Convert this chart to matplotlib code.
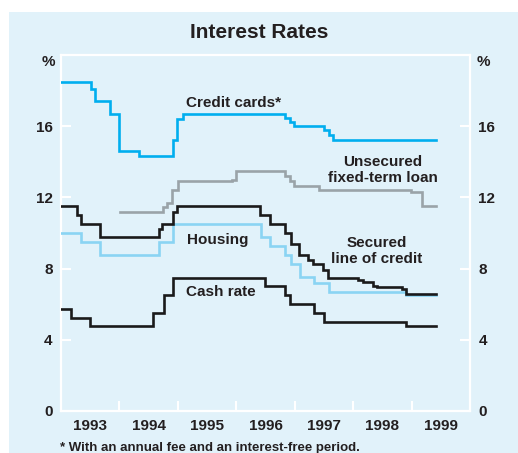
import matplotlib
matplotlib.use("Agg")
import matplotlib.pyplot as plt
from matplotlib.patches import Rectangle

# ---------------------------------------------------------------------------
# Data (step series: date of change, new rate); END closes every series
# ---------------------------------------------------------------------------
END = 1999.42

CARD_DATES = [1993.0, 1993.51, 1993.58, 1993.84, 1993.99, 1994.34, 1994.92,
              1994.99, 1995.09, 1996.84, 1996.92, 1996.99, 1997.50, 1997.58,
              1997.66]
CARD_RATES = [18.5, 18.1, 17.4, 16.7, 14.6, 14.3, 15.2,
              16.4, 16.7, 16.45, 16.25, 16.0, 15.8, 15.5,
              15.25]

LOAN_DATES = [1994.01, 1994.74, 1994.81, 1994.90, 1995.0, 1995.92, 1996.0,
              1996.84, 1996.92, 1996.99, 1997.42, 1998.99, 1999.17]
LOAN_RATES = [11.2, 11.45, 11.7, 12.4, 12.9, 13.0, 13.5,
              13.2, 12.9, 12.65, 12.4, 12.3, 11.5]

LOC_DATES = [1993.0, 1993.27, 1993.34, 1993.67, 1994.67, 1994.73, 1994.91,
             1994.98, 1996.41, 1996.58, 1996.84, 1996.93, 1997.08, 1997.22,
             1997.32, 1997.48, 1997.57, 1998.09, 1998.17, 1998.34, 1998.41,
             1998.84, 1998.91]
LOC_RATES = [11.5, 11.0, 10.5, 9.75, 10.25, 10.5, 11.2,
             11.5, 11.0, 10.5, 10.0, 9.4, 8.75, 8.5,
             8.25, 7.9, 7.45, 7.35, 7.25, 7.05, 6.95,
             6.85, 6.6]

HOUSING_DATES = [1993.0, 1993.34, 1993.67, 1994.67, 1994.91, 1996.43, 1996.58,
                 1996.83, 1996.93, 1997.09, 1997.33, 1997.58, 1998.91]
HOUSING_RATES = [10.0, 9.5, 8.75, 9.5, 10.5, 9.75, 9.25,
                 8.75, 8.25, 7.55, 7.2, 6.7, 6.5]

CASH_DATES = [1993.0, 1993.17, 1993.5, 1994.58, 1994.77, 1994.92, 1996.5,
              1996.84, 1996.92, 1997.33, 1997.5, 1998.91]
CASH_RATES = [5.75, 5.25, 4.75, 5.5, 6.5, 7.5, 7.0,
              6.5, 6.0, 5.5, 5.0, 4.75]

YEARS = [1993, 1994, 1995, 1996, 1997, 1998, 1999]
Y_TICKS = [0, 4, 8, 12, 16]

# ---------------------------------------------------------------------------
# Style
# ---------------------------------------------------------------------------
plt.rcParams["font.family"] = ["Liberation Sans", "DejaVu Sans"]
plt.rcParams["font.weight"] = "bold"

PANEL = "#e1f2fa"
TXT = "#231f20"
W, H = 518, 453

fig = plt.figure(figsize=(W / 100, H / 100), dpi=100)
fig.patch.set_facecolor("white")
fig.patches.append(Rectangle((9 / W, 0), 1 - 9 / W, 1 - 12 / H,
                             transform=fig.transFigure, facecolor=PANEL,
                             edgecolor="none", zorder=-10))

ax = fig.add_axes([61 / W, (H - 411) / H, (470 - 61) / W, (411 - 55) / H])
ax.set_facecolor(PANEL)
ax.set_zorder(1)


def step(dates, rates, color):
    ax.step(dates + [END], rates + [rates[-1]], where="post",
            color=color, lw=1.9, solid_joinstyle="miter", zorder=3)


step(CARD_DATES, CARD_RATES, "#00aeef")
step(LOAN_DATES, LOAN_RATES, "#9aa3a8")
step(HOUSING_DATES, HOUSING_RATES, "#8ad4f3")
step(LOC_DATES, LOC_RATES, "#1a1a1a")
step(CASH_DATES, CASH_RATES, "#1a1a1a")

ax.set_xlim(1993, 2000)
ax.set_ylim(0, 20)

for s in ax.spines.values():
    s.set_color("white")
    s.set_linewidth(1.6)

# year boundaries as ticks, labels centred in each year
ax.set_xticks(YEARS[1:])
ax.set_xticklabels([])
ax.set_xticks([y + 0.5 for y in YEARS], minor=True)
ax.set_xticklabels([str(y) for y in YEARS], minor=True)
ax.tick_params(axis="x", which="major", direction="in", length=7,
               width=1.5, color="white")
ax.tick_params(axis="x", which="minor", length=0, pad=6, labelsize=11,
               labelcolor=TXT)

ax.set_yticks(Y_TICKS)
ax.tick_params(axis="y", which="both", direction="in", length=7, width=1.5,
               color="white", left=True, right=True, labelleft=True,
               labelright=True, labelsize=11, labelcolor=TXT, pad=6)
for lbl in ax.get_xticklabels(minor=True) + ax.get_yticklabels():
    lbl.set_fontweight("bold")

# titles and labels
fig.text(259 / W, 1 - 33 / H, "Interest Rates", ha="center", va="center",
         fontsize=15, fontweight="bold", color=TXT)
fig.text(48 / W, 1 - 62 / H, "%", ha="center", va="center", fontsize=11,
         fontweight="bold", color=TXT)
fig.text(483 / W, 1 - 62 / H, "%", ha="center", va="center", fontsize=11,
         fontweight="bold", color=TXT)
fig.text(60 / W, 1 - 448 / H, "* With an annual fee and an interest-free period.",
         ha="left", va="center", fontsize=9.5, fontweight="bold", color=TXT)

lab = dict(ha="center", va="center", fontsize=11, fontweight="bold",
           color=TXT, zorder=4)
ax.text(1995.96, 17.3, "Credit cards*", **lab)
ax.text(1998.51, 13.55, "Unsecured\nfixed-term loan", linespacing=1.15, **lab)
ax.text(1995.69, 9.6, "Housing", **lab)
ax.text(1995.73, 6.66, "Cash rate", **lab)
ax.text(1998.4, 9.0, "Secured\nline of credit", linespacing=1.15, **lab)

fig.savefig("out.png", dpi=100)
